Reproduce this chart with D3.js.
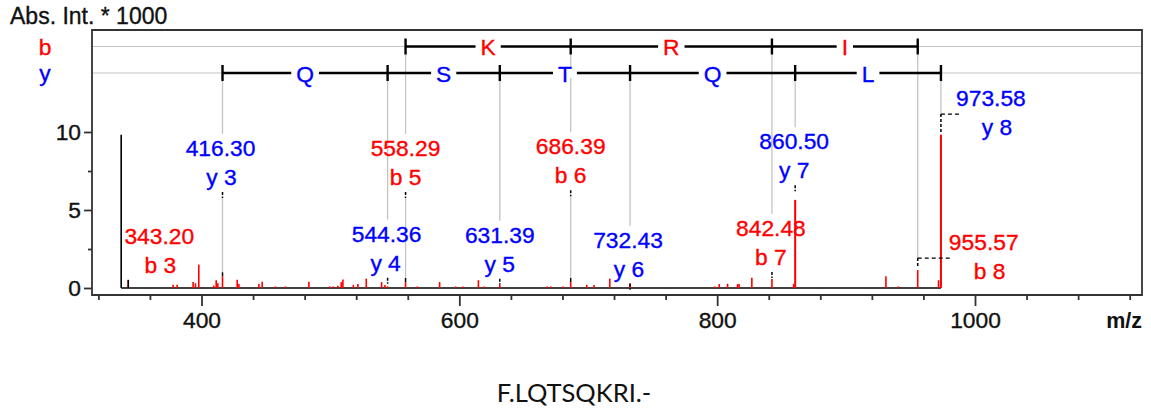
<!DOCTYPE html>
<html><head><meta charset="utf-8">
<script src="https://cdn.jsdelivr.net/npm/d3@7"></script>
<style>body{margin:0;background:#fff}svg{display:block}
.hv{stroke-width:0.35px;paint-order:fill}</style>
</head><body>
<svg id="c" width="1151" height="413"></svg>
<script>
// ---------------- data ----------------
const xMajorTicks = [400, 600, 800, 1000];
const xMinorTicks = [320, 360, 440, 480, 520, 560, 640, 680, 720, 760, 840, 880, 920, 960, 1040, 1080, 1120];
const yMajorTicks = [0, 5, 10];
const yMinorTicks = [2.5, 7.5];
const yAxisTitle = "Abs. Int. * 1000";
const xAxisTitle = "m/z";
const sequence = "F.LQTSQKRI.-";

// unassigned peaks (m/z, intensity * 1000)
const peakMz  = [378.0, 381.1, 393.5, 395.3, 397.9, 409.5, 411.4, 412.7, 427.7, 429.0, 444.5, 447.1, 457.4, 465.2,
                 483.3, 499.6, 502.2, 505.8, 508.4, 509.7, 517.8, 521.3, 527.8, 539.7, 542.3, 567.4, 584.7, 597.2,
                 602.8, 614.8, 619.1, 668.3, 670.9, 680.4, 698.8, 704.5, 716.7, 798.2, 801.6, 808.1, 815.8, 817.0,
                 826.9, 859.3, 930.9, 940.5, 971.7];
const peakInt = [0.21, 0.21, 0.38, 0.30, 1.50, 0.15, 0.50, 0.30, 0.53, 0.25, 0.25, 0.40, 0.10, 0.10,
                 0.40, 0.10, 0.10, 0.15, 0.38, 0.55, 0.20, 0.25, 0.60, 0.38, 0.20, 0.10, 0.38, 0.10,
                 0.10, 0.50, 0.10, 0.10, 0.10, 0.10, 0.20, 0.20, 0.60, 0.10, 0.25, 0.27, 0.25, 0.25,
                 0.65, 0.27, 0.75, 0.10, 0.50];

// assigned fragment ions
const ionType = ["b", "y", "y", "b", "y", "b", "y", "b", "y", "b", "y"];
const ionNum  = [3, 3, 4, 5, 5, 6, 6, 7, 7, 8, 8];
const ionMz   = [343.20, 416.30, 544.36, 558.29, 631.39, 686.39, 732.43, 842.48, 860.50, 955.57, 973.58];
const ionInt  = [0.53, 0.75, 0.10, 0.38, 0.20, 0.38, 0.30, 0.58, 5.65, 1.15, 9.83];

// sequence ladders
const bLadderMz = [558.29, 686.39, 842.48, 955.57];
const bLadderAA = ["K", "R", "I"];
const yLadderMz = [416.30, 544.36, 631.39, 732.43, 860.50, 973.58];
const yLadderAA = ["Q", "S", "T", "Q", "L"];

const spectrumStartMz = 337.7;

// ---------------- layout (annotation placement) ----------------
// level: intensity at which the label anchor sits; dx1/dx2: text offsets; elbow: leader length
const ionLayout = [
  {level: 0.51, dx1: 31, dx2: 32},
  {level: 6.15, dx1: -2, dx2: -1},
  {level: 0.66, dx1: -1, dx2: -2},
  {level: 6.15, dx1: 0, dx2: 0},
  {level: 0.60, dx1: 0, dx2: 0},
  {level: 6.26, dx1: 0, dx2: 0},
  {level: 0.28, dx1: -2, dx2: -1},
  {level: 1.03, dx1: -1, dx2: -1},
  {level: 6.58, dx1: -1, dx2: -1},
  {level: 1.92, dx1: 66, dx2: 72, elbow: 35},
  {level: 11.15, dx1: 50, dx2: 56, elbow: 18}
];

// ---------------- drawing ----------------
const FONT = "'Liberation Sans', Arial, Helvetica, sans-serif";
const RED = "#ff0000", BLUE = "#0000ff", GRAY = "#c4c4c4";
const frame = {l: 92, t: 30, r: 1142, b: 295};
const rowB = 46.5, rowY = 73;
const FS = 22.8;

const svg = d3.select("#c").attr("font-family", FONT);
const x = d3.scaleLinear().domain([400, 1000]).range([201.5, 975]);
const y = d3.scaleLinear().domain([0, 10]).range([288, 132]);

function heavy(sel, color) { return sel.attr("fill", color).attr("stroke", color).attr("class", "hv"); }

// y-axis title
heavy(svg.append("text").attr("x", 10).attr("y", 23.5).attr("font-size", 23).text(yAxisTitle), "#111");

// row labels
heavy(svg.append("text").attr("x", 45).attr("y", rowB + 8.5).attr("text-anchor", "middle")
  .attr("font-size", FS).text("b"), RED);
heavy(svg.append("text").attr("x", 45).attr("y", rowY + 7.5).attr("text-anchor", "middle")
  .attr("font-size", FS).text("y"), BLUE);

// grey row guide lines
[rowB, rowY].forEach(r => svg.append("line").attr("x1", frame.l).attr("x2", frame.r)
  .attr("y1", r).attr("y2", r).attr("stroke", GRAY).attr("stroke-width", 1.2));

// ion geometry
const ions = ionMz.map((mz, i) => {
  const L = ionLayout[i];
  const px = x(mz);
  const anchor = y(L.level);
  let line1, line2;
  if (L.elbow) { line1 = anchor - 8.5; line2 = line1 + 29; }
  else { line2 = anchor - 7; line1 = line2 - 29; }
  const inLadder = (ionType[i] === "b" ? bLadderMz : yLadderMz).includes(mz);
  return {i, mz, px, anchor, line1, line2, L, type: ionType[i], num: ionNum[i],
          inten: ionInt[i], inLadder, top: y(ionInt[i])};
});

// grey leaders from ladders to labels
const gLead = svg.append("g").attr("stroke", GRAY).attr("stroke-width", 1.3);
ions.filter(d => d.inLadder).forEach(d => {
  const start = (d.type === "b" ? rowB : rowY) + 8;
  const end = d.L.elbow ? d.anchor : d.line1 - 22;
  gLead.append("line").attr("x1", d.px).attr("x2", d.px).attr("y1", start).attr("y2", end);
});
// grey connectors from label anchors down to distant peaks
ions.filter(d => !d.L.elbow && d.top - (d.anchor + 6) > 14).forEach(d => {
  gLead.append("line").attr("x1", d.px).attr("x2", d.px).attr("y1", d.anchor + 6).attr("y2", d.top - 4);
});

// ladders
function ladder(mzs, aas, row, color) {
  const g = svg.append("g");
  g.append("line").attr("x1", x(mzs[0])).attr("x2", x(mzs[mzs.length - 1]))
    .attr("y1", row).attr("y2", row).attr("stroke", "#000").attr("stroke-width", 2.7);
  mzs.forEach(m => g.append("line").attr("x1", x(m)).attr("x2", x(m))
    .attr("y1", row - 8).attr("y2", row + 8).attr("stroke", "#000").attr("stroke-width", 2.4));
  aas.forEach((aa, k) => {
    const cx = (x(mzs[k]) + x(mzs[k + 1])) / 2;
    const r = g.append("rect").attr("fill", "#fff");
    const t = heavy(g.append("text").attr("x", cx).attr("y", row + 8.5).attr("text-anchor", "middle")
      .attr("font-size", FS).text(aa), color);
    const w = t.node().getComputedTextLength();
    r.attr("x", cx - w / 2 - 5).attr("y", row - 5).attr("width", w + 10).attr("height", 10);
  });
}
ladder(bLadderMz, bLadderAA, rowB, RED);
ladder(yLadderMz, yLadderAA, rowY, BLUE);

// spectrum baseline + start line
svg.append("line").attr("x1", x(spectrumStartMz)).attr("x2", x(d3.max(ionMz)))
  .attr("y1", y(0)).attr("y2", y(0)).attr("stroke", "#000").attr("stroke-width", 1.6);
svg.append("line").attr("x1", x(spectrumStartMz)).attr("x2", x(spectrumStartMz))
  .attr("y1", y(0)).attr("y2", y(d3.max(ionInt))).attr("stroke", "#000").attr("stroke-width", 1.6);

// peaks
const gPk = svg.append("g").attr("stroke", RED).attr("stroke-width", 1.6);
peakMz.forEach((m, k) => gPk.append("line").attr("x1", x(m)).attr("x2", x(m))
  .attr("y1", y(0)).attr("y2", y(peakInt[k])));
ions.forEach(d => gPk.append("line").attr("x1", d.px).attr("x2", d.px)
  .attr("y1", y(0)).attr("y2", d.top).attr("stroke-width", d.inten > 3 ? 2 : 1.6));

// black anchor markers / elbows
const gMk = svg.append("g").attr("stroke", "#000").attr("stroke-width", 1.5).attr("fill", "none");
ions.forEach(d => {
  if (d.L.elbow) {
    gMk.append("line").attr("x1", d.px).attr("x2", d.px).attr("y1", d.anchor).attr("y2", d.top - 2)
      .attr("stroke-dasharray", "3,2");
    gMk.append("line").attr("x1", d.px).attr("x2", d.px + d.L.elbow).attr("y1", d.anchor).attr("y2", d.anchor)
      .attr("stroke-dasharray", "4,3").attr("stroke-width", 1.3);
  } else {
    const end = d.i === 0 ? y(0) : d.anchor + 6;
    gMk.append("line").attr("x1", d.px).attr("x2", d.px).attr("y1", d.anchor).attr("y2", end)
      .attr("stroke-dasharray", d.i === 0 ? null : "3,1.5");
    if (d.top - (d.anchor + 6) > 14) {
      gMk.append("line").attr("x1", d.px).attr("x2", d.px).attr("y1", d.top - 4).attr("y2", d.top);
    }
  }
});

// ion labels
const gLab = svg.append("g").attr("font-size", FS).attr("text-anchor", "middle");
ions.forEach(d => {
  const c = d.type === "b" ? RED : BLUE;
  heavy(gLab.append("text").attr("x", d.px + d.L.dx1).attr("y", d.line1).text(d.mz.toFixed(2)), c);
  heavy(gLab.append("text").attr("x", d.px + d.L.dx2).attr("y", d.line2).text(d.type + " " + d.num), c);
});

// frame
svg.append("path").attr("d", `M${frame.l},${frame.b}V${frame.t}H${frame.r}V${frame.b}Z`)
  .attr("fill", "none").attr("stroke", "#333").attr("stroke-width", 1.8);

// x axis
const xMinor = svg.append("g").attr("transform", `translate(0,${frame.b})`)
  .call(d3.axisBottom(x).tickValues(xMinorTicks).tickSize(5).tickFormat(""));
const xMajor = svg.append("g").attr("transform", `translate(0,${frame.b})`)
  .call(d3.axisBottom(x).tickValues(xMajorTicks).tickSize(11).tickPadding(6).tickFormat(d3.format("d")));
[xMinor, xMajor].forEach(g => {
  g.select(".domain").remove();
  g.selectAll("line").attr("stroke", "#333").attr("stroke-width", 1.8);
});
heavy(xMajor.selectAll("text").attr("font-size", FS).attr("font-family", FONT), "#111");
svg.append("text").attr("x", frame.r).attr("y", 328).attr("text-anchor", "end")
  .attr("font-size", 21.5).attr("font-weight", "bold").attr("fill", "#111").text(xAxisTitle);

// y axis
const yMinor = svg.append("g").attr("transform", `translate(${frame.l},0)`)
  .call(d3.axisLeft(y).tickValues(yMinorTicks).tickSize(4).tickFormat(""));
const yMajor = svg.append("g").attr("transform", `translate(${frame.l},0)`)
  .call(d3.axisLeft(y).tickValues(yMajorTicks).tickSize(8).tickPadding(3).tickFormat(d3.format("d")));
[yMinor, yMajor].forEach(g => {
  g.select(".domain").remove();
  g.selectAll("line").attr("stroke", "#333").attr("stroke-width", 1.8);
});
heavy(yMajor.selectAll("text").attr("font-size", FS).attr("font-family", FONT), "#111");

// sequence caption
svg.append("text").attr("x", 574).attr("y", 401.5).attr("text-anchor", "middle")
  .attr("font-family", "Lato, 'Open Sans', sans-serif").attr("font-size", 25.5).attr("fill", "#111")
  .text(sequence);
</script>
</body></html>
